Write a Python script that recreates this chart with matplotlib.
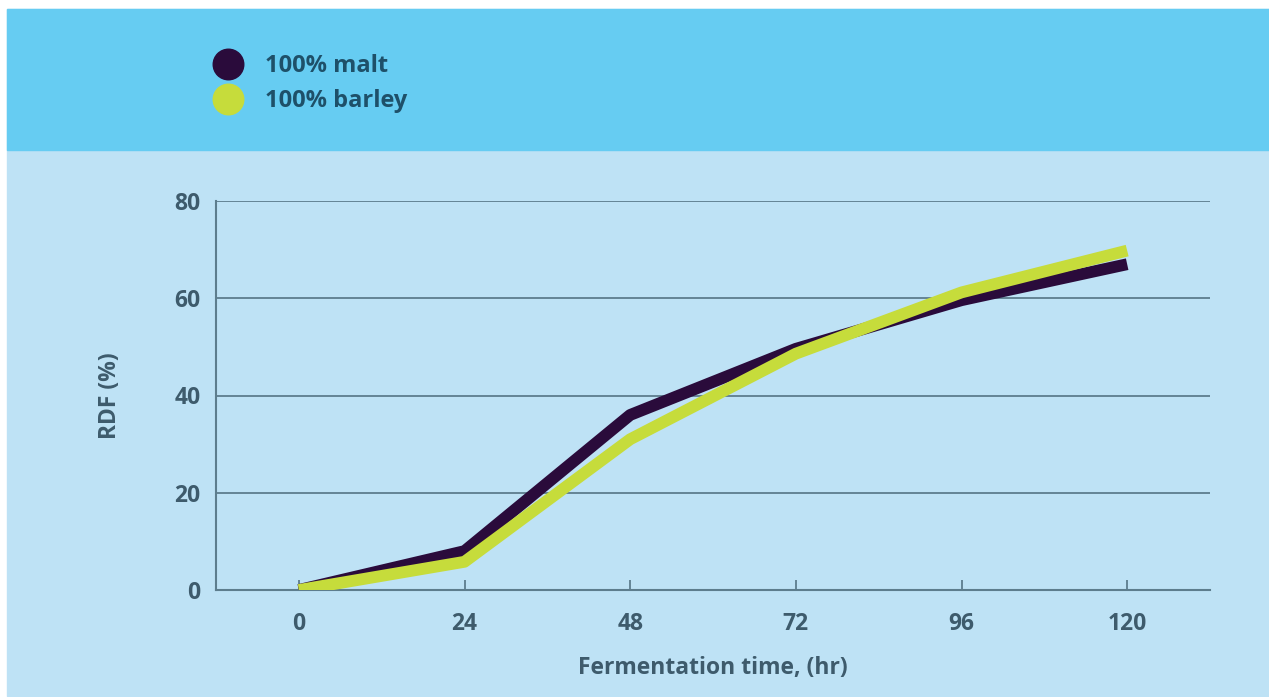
import matplotlib
matplotlib.use("Agg")
import matplotlib.pyplot as plt
from matplotlib.patches import Rectangle
from matplotlib.lines import Line2D

# data
hours = [0, 24, 48, 72, 96, 120]
malt = [0, 8, 36, 49.6, 59.6, 67]
barley = [0, 5.8, 31, 48.6, 61.2, 69.8]
series_names = ["100% malt", "100% barley"]
y_ticks = [0, 20, 40, 60, 80]

plt.rcParams['font.family'] = ['Open Sans', 'DejaVu Sans']
plt.rcParams['font.weight'] = 'bold'

W, H = 1269, 697
fig = plt.figure(figsize=(W / 100, H / 100), dpi=100, facecolor='white')

# background panels (pixel coords converted to figure fraction)
def px_rect(x0, y0, x1, y1, color):
    fig.patches.append(Rectangle((x0 / W, 1 - y1 / H), (x1 - x0) / W, (y1 - y0) / H,
                                 transform=fig.transFigure, color=color, zorder=-10))

px_rect(7, 9, W, 696, '#bee2f5')
px_rect(7, 9, W, 150, '#66ccf2')

ax = fig.add_axes([216 / W, 1 - 590 / H, (1210 - 216) / W, (590 - 201) / H])
ax.set_facecolor('none')

malt_c = '#2a0b3b'
barley_c = '#c6dc3b'
text_c = '#3e5b6c'
grid_c = '#5d7d8d'

ax.plot(hours, malt, color=malt_c, lw=8.5, solid_capstyle='butt', zorder=3)
ax.plot(hours, barley, color=barley_c, lw=8.5, solid_capstyle='butt', zorder=4)

ax.set_xlim(-12, 132)
ax.set_ylim(0, 80)
ax.set_xticks(hours)
ax.set_yticks(y_ticks)
ax.grid(axis='y', color=grid_c, lw=1.3, zorder=1)
ax.set_axisbelow(True)

for s in ['top', 'right']:
    ax.spines[s].set_visible(False)
for s in ['left', 'bottom']:
    ax.spines[s].set_color(grid_c)
    ax.spines[s].set_linewidth(1.5)
ax.spines['bottom'].set_zorder(2)

ax.tick_params(axis='x', direction='in', length=7, width=1.3, color=grid_c,
               pad=16, labelsize=16.5, labelcolor=text_c)
ax.tick_params(axis='y', length=0, pad=11, labelsize=16.5, labelcolor=text_c)
for lab in ax.get_xticklabels() + ax.get_yticklabels():
    lab.set_fontweight('bold')

ax.set_xlabel('Fermentation time, (hr)', fontsize=16.5, fontweight='bold',
              color=text_c, labelpad=14)
ax.set_ylabel('RDF (%)', fontsize=16.5, fontweight='bold', color=text_c, labelpad=38)

# legend in the top band
handles = [Line2D([], [], marker='o', ls='none', ms=22, mfc=c, mec=c)
           for c in (malt_c, barley_c)]
fig.legend(handles, series_names, loc='upper left',
           bbox_to_anchor=(189 / W, 1 - 33 / H), frameon=False,
           labelcolor='#1e5069', handletextpad=0.8, handlelength=1.5,
           labelspacing=0.45, prop={'weight': 'bold', 'size': 17})

fig.savefig('out.png', dpi=100, facecolor='white')
